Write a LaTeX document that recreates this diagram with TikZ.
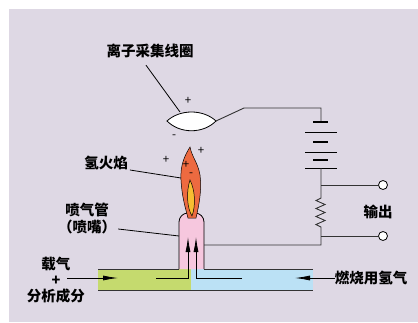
\documentclass[tikz,border=0pt]{standalone}
\usepackage{fontspec}
\setmainfont{Noto Sans CJK SC}
\usepackage{xcolor}
\usepackage{tikz}
\usetikzlibrary{arrows.meta}

\definecolor{panel}{RGB}{222,216,228}
\definecolor{carrier}{RGB}{197,218,110}
\definecolor{fuel}{RGB}{187,225,245}
\definecolor{nozzle}{RGB}{246,199,222}
\definecolor{flameout}{RGB}{237,106,64}
\definecolor{flamein}{RGB}{247,190,50}

\begin{document}
\begin{tikzpicture}[
    x=1pt, y=-1pt,
    font=\fontsize{14.5}{17}\selectfont\bfseries,
    >={Latex[length=15pt,width=5pt]},
    txt/.style={inner sep=0pt, align=center},
    charge/.style={inner sep=0pt, font=\fontsize{11.5}{11.5}\selectfont\mdseries},
    wire/.style={draw=black!80, line width=0.9pt},
    leader/.style={draw, line width=0.8pt},
    flow/.style={->, line width=0.8pt},
    terminal/.style={circle, draw, fill=white, line width=0.8pt, minimum size=9pt, inner sep=0pt}
]
\useasboundingbox (0,0) rectangle (418,322);
\fill[panel] (9,9) rectangle (418,322);

% gas line
\fill[carrier] (98,269) rectangle (191,290);
\fill[fuel] (191,269) rectangle (313,290);
\draw[wire] (98,269) -- (179,269) (204,269) -- (313,269);
\draw[wire] (98,290) -- (313,290);

% nozzle
\filldraw[fill=nozzle, line width=0.8pt, rounded corners=9pt]
    (179,269) -- (179,213) -- (204,213) -- (204,269);

% flame
\filldraw[fill=flameout, line width=0.5pt]
    (190,147) .. controls (185,155) and (180,165) .. (181,180)
    .. controls (182,198) and (186,210) .. (188,218) -- (196,218)
    .. controls (199,205) and (202,190) .. (200,175)
    .. controls (198,163) and (192,157) .. (190,147) -- cycle;
\filldraw[fill=flamein, line width=0.5pt]
    (190,180) .. controls (186,192) and (187,208) .. (192,216)
    .. controls (196,205) and (195,190) .. (190,180) -- cycle;

% collector
\coordinate (lensL) at (167,121);
\coordinate (lensR) at (216,121);
\filldraw[fill=white, line width=0.8pt]
    (lensL) .. controls (180,109) and (203,109) .. (lensR)
    .. controls (203,134) and (180,134) .. (lensL) -- cycle;

% circuit
\coordinate (bend) at (244,108);
\coordinate (corner) at (321,108);
\coordinate (battop) at (321,122);
\coordinate (batbot) at (321,168);
\coordinate (resTop) at (321,198);
\coordinate (resBot) at (321,227);
\coordinate (low) at (321,245);
\coordinate (feed) at (204,245);
\draw[wire] (lensR) -- (bend) -- (corner) -- (battop);
\foreach \y in {122,142,160}
    \draw[line width=2.2pt] (313,\y) -- (328,\y);
\foreach \y in {132,152,168}
    \draw[line width=0.9pt] (305,\y) -- (337,\y);
\draw[wire] (batbot) -- (resTop)
    -- (316,200.5) -- (325,204.5) -- (316,208.5) -- (325,212.5)
    -- (316,216.5) -- (325,220.5) -- (316,224.5) -- (resBot)
    -- (low) -- (feed);
\node[terminal] (outA) at (383,185) {};
\node[terminal] (outB) at (383,236) {};
\draw[wire] (321,185) -- (outA);
\draw[wire] (321,236) -- (outB);
\node[txt] (output) at (378,212) {输出};

% charges
\node[charge] (c1) at (188,101) {+};
\node[charge] (c2) at (174,137) {-};
\node[charge] (c3) at (166,160) {+};
\node[charge] (c4) at (201,151) {+};
\node[charge] (c5) at (186,165) {+};
\node[charge] (c6) at (191,175) {-};

% flows
\draw[flow] (156,278) -| (188,237);
\draw[flow] (242,278) -| (196,237);
\node[txt] (sample) at (56,280) {载气\\[-1pt]+\\[-1pt]分析成分};
\coordinate (sampleIn) at (67,278);
\draw[flow] (sampleIn) -- (118,278);
\node[txt] (hydrogen) at (371,278) {燃烧用氢气};
\draw[flow] (hydrogen.west) -- (295,278);

% labels
\node[txt] (coil) at (150,51) {离子采集线圈};
\draw[leader] ([shift={(-4,7)}]coil.south) -- (180,112);
\node[txt] (flame) at (106,163) {氢火焰};
\draw[leader] ([shift={(2,7)}]flame.east) -- (181,178);
\node[txt] (jet) at (87,218) {喷气管\\（喷嘴）};
\draw[leader] ([shift={(2,11)}]jet.east) -- (179,236);
\end{tikzpicture}
\end{document}
